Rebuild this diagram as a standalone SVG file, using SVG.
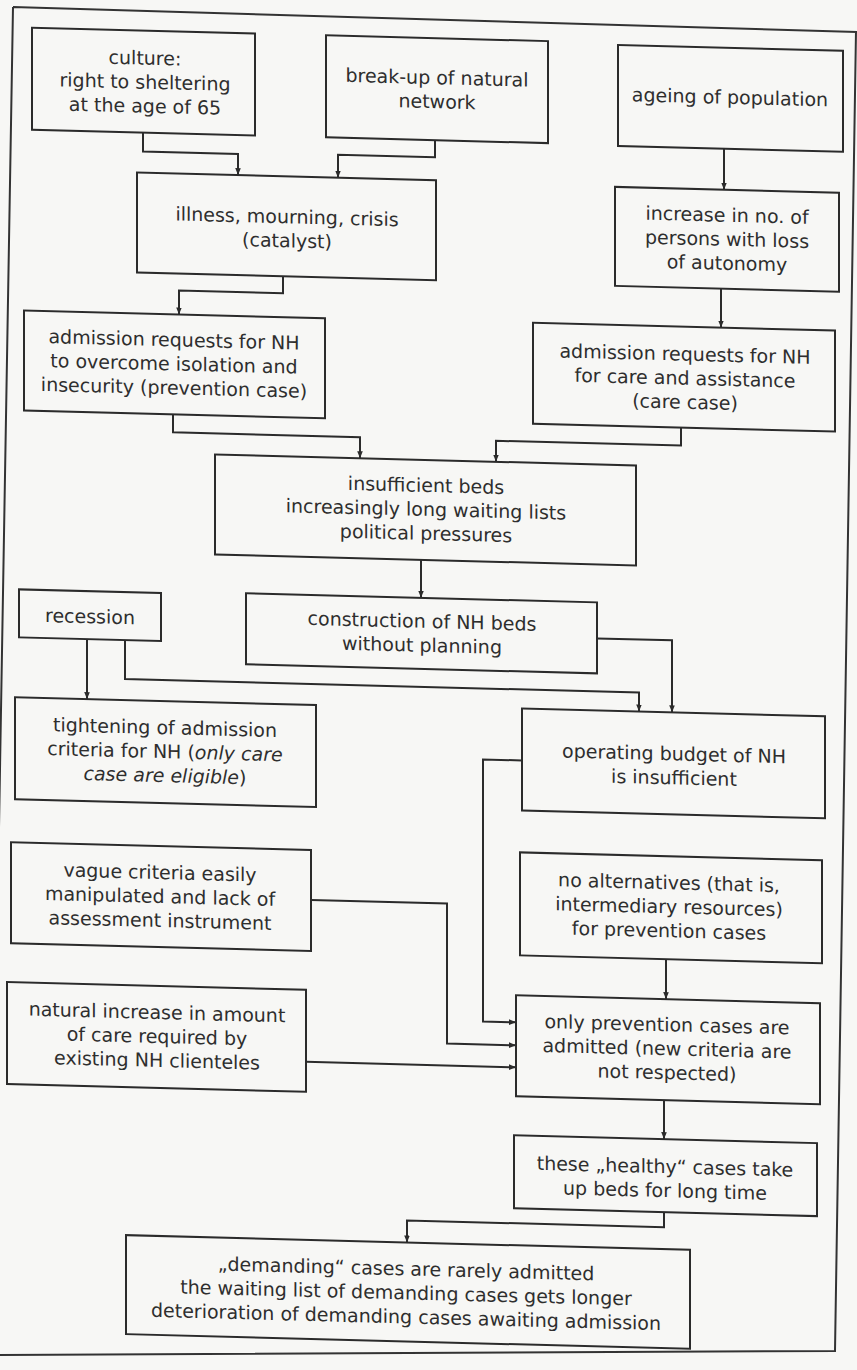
<svg xmlns="http://www.w3.org/2000/svg" width="857" height="1370" viewBox="0 0 857 1370">
<defs>
<marker id="arr" viewBox="0 0 10 10" refX="10" refY="5" markerWidth="7" markerHeight="7" orient="auto" markerUnits="userSpaceOnUse"><path d="M0,1 L10,5 L0,9 z" fill="#2b2b2b"/></marker>
</defs>
<style>
.box{fill:none;stroke:#2b2b2b;stroke-width:2}
.t{font-family:"DejaVu Sans","Liberation Sans",sans-serif;font-size:19px;fill:#2e2e2e;text-anchor:middle}
.c{fill:none;stroke:#2b2b2b;stroke-width:2;marker-end:url(#arr)}
.i{font-style:italic}
.fr{fill:none;stroke:#333;stroke-width:2}
</style>
<rect width="857" height="1370" fill="#f7f7f5"/>
<g id="frame">
<path class="fr" d="M13,7 L857,32 M856,31 L835,1351 L0,1355 M13,7 L-10,1355"/>
</g>
<g transform="matrix(1,0.026,0,1,0,-11.13)">
<g id="connectors">
<path class="c" d="M143,140 V159 H238 V180"/>
<path class="c" d="M435,140 V157 H338 V180"/>
<path class="c" d="M283,280 V297 H179 V321"/>
<path class="c" d="M724,141 V182"/>
<path class="c" d="M721,281 V320"/>
<path class="c" d="M173,421 V439 H360 V460"/>
<path class="c" d="M681,421 V439 H496 V460"/>
<path class="c" d="M421,560 V598"/>
<path class="c" d="M87,648 V708"/>
<path class="c" d="M125,648 V687 H639 V706"/>
<path class="c" d="M597,634 H672 V706"/>
<path class="c" d="M522,758 H483 V1020 H516"/>
<path class="c" d="M311,903 H447 V1043 H516"/>
<path class="c" d="M306,1065 H516"/>
<path class="c" d="M666,953 V993"/>
<path class="c" d="M664,1094 V1133"/>
<path class="c" d="M664,1206 V1221 H407 V1243"/>
</g>
<g id="culture">
<rect class="box" x="32" y="38" width="223" height="102"/>
<text class="t" x="145" y="72">culture:</text>
<text class="t" x="145" y="96">right to sheltering</text>
<text class="t" x="145" y="120">at the age of 65</text>
</g>
<g id="breakup">
<rect class="box" x="326" y="38" width="222" height="102"/>
<text class="t" x="437" y="84">break-up of natural</text>
<text class="t" x="437" y="108">network</text>
</g>
<g id="ageing">
<rect class="box" x="618" y="40" width="225" height="101"/>
<text class="t" x="730" y="96">ageing of population</text>
</g>
<g id="illness">
<rect class="box" x="137" y="180" width="299" height="100"/>
<text class="t" x="287" y="227">illness, mourning, crisis</text>
<text class="t" x="287" y="251">(catalyst)</text>
</g>
<g id="increase">
<rect class="box" x="615" y="182" width="224" height="99"/>
<text class="t" x="727" y="214">increase in no. of</text>
<text class="t" x="727" y="238">persons with loss</text>
<text class="t" x="727" y="262">of autonomy</text>
</g>
<g id="prevreq">
<rect class="box" x="24" y="321" width="301" height="100"/>
<text class="t" x="174" y="353">admission requests for NH</text>
<text class="t" x="174" y="377">to overcome isolation and</text>
<text class="t" x="174" y="401">insecurity (prevention case)</text>
</g>
<g id="carereq">
<rect class="box" x="533" y="320" width="302" height="101"/>
<text class="t" x="685" y="354">admission requests for NH</text>
<text class="t" x="685" y="378">for care and assistance</text>
<text class="t" x="685" y="402">(care case)</text>
</g>
<g id="insufficient">
<rect class="box" x="215" y="460" width="421" height="100"/>
<text class="t" x="426" y="492">insufficient beds</text>
<text class="t" x="426" y="516">increasingly long waiting lists</text>
<text class="t" x="426" y="540">political pressures</text>
</g>
<g id="construction">
<rect class="box" x="246" y="598" width="351" height="71"/>
<text class="t" x="422" y="628">construction of NH beds</text>
<text class="t" x="422" y="652">without planning</text>
</g>
<g id="recession">
<rect class="box" x="19" y="600" width="142" height="48"/>
<text class="t" x="90" y="632">recession</text>
</g>
<g id="tightening">
<rect class="box" x="15" y="708" width="301" height="102"/>
<text class="t" x="165" y="741">tightening of admission</text>
<text class="t" x="165" y="765">criteria for NH (<tspan class="i">only care</tspan></text>
<text class="t" x="165" y="789"><tspan class="i">case are eligible</tspan>)</text>
</g>
<g id="operating">
<rect class="box" x="522" y="706" width="303" height="102"/>
<text class="t" x="674" y="754">operating budget of NH</text>
<text class="t" x="674" y="778">is insufficient</text>
</g>
<g id="vague">
<rect class="box" x="11" y="853" width="300" height="101"/>
<text class="t" x="160" y="886">vague criteria easily</text>
<text class="t" x="160" y="910">manipulated and lack of</text>
<text class="t" x="160" y="934">assessment instrument</text>
</g>
<g id="noalt">
<rect class="box" x="520" y="850" width="302" height="103"/>
<text class="t" x="669" y="883">no alternatives (that is,</text>
<text class="t" x="669" y="907">intermediary resources)</text>
<text class="t" x="669" y="931">for prevention cases</text>
</g>
<g id="onlyprev">
<rect class="box" x="516" y="993" width="304" height="101"/>
<text class="t" x="667" y="1025">only prevention cases are</text>
<text class="t" x="667" y="1049">admitted (new criteria are</text>
<text class="t" x="667" y="1073">not respected)</text>
</g>
<g id="natural">
<rect class="box" x="7" y="993" width="299" height="102"/>
<text class="t" x="157" y="1026">natural increase in amount</text>
<text class="t" x="157" y="1050">of care required by</text>
<text class="t" x="157" y="1074">existing NH clienteles</text>
</g>
<g id="healthy">
<rect class="box" x="514" y="1133" width="303" height="73"/>
<text class="t" x="665" y="1167">these „healthy“ cases take</text>
<text class="t" x="665" y="1191">up beds for long time</text>
</g>
<g id="demanding">
<rect class="box" x="126" y="1243" width="564" height="99"/>
<text class="t" x="406" y="1276">„demanding“ cases are rarely admitted</text>
<text class="t" x="406" y="1300">the waiting list of demanding cases gets longer</text>
<text class="t" x="406" y="1324">deterioration of demanding cases awaiting admission</text>
</g>
</g>
</svg>
